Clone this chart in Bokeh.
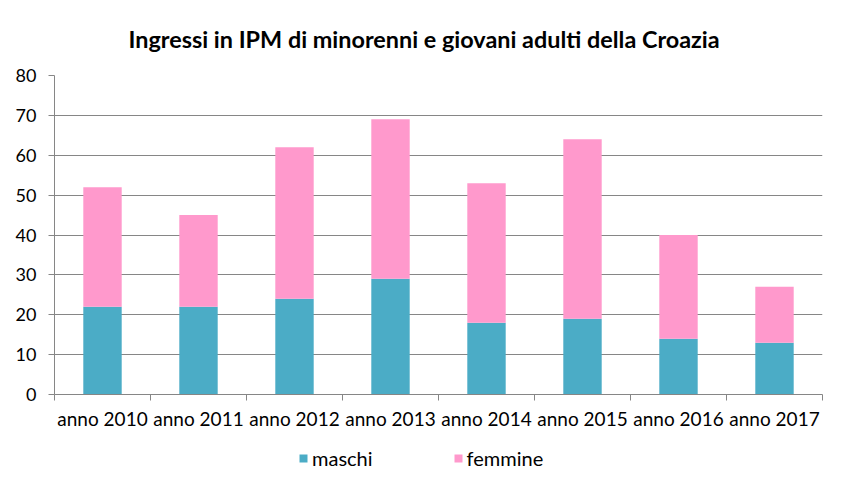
from bokeh.plotting import figure
from bokeh.layouts import column
from bokeh.models import ColumnDataSource, Range1d, FixedTicker, LinearAxis, Legend, LegendItem
from bokeh.embed import file_html
from bokeh.resources import INLINE

categories = ["anno 2010", "anno 2011", "anno 2012", "anno 2013", "anno 2014", "anno 2015", "anno 2016", "anno 2017"]
maschi = [22, 22, 24, 29, 18, 19, 14, 13]
femmine = [30, 23, 38, 40, 35, 45, 26, 14]
y_ticks = [0, 10, 20, 30, 40, 50, 60, 70, 80]
series_names = ["maschi", "femmine"]

FONT = "Lato"
C_M = "#4BACC6"
C_F = "#FF99CC"
GRID = "#868686"

xs = [i + 0.5 for i in range(len(categories))]
tops_m = maschi
tops_f = [m + f for m, f in zip(maschi, femmine)]
src = ColumnDataSource(dict(x=xs, m=tops_m, f=tops_f, cat=categories))

p = figure(width=830, height=438, output_backend="svg", toolbar_location=None,
           x_range=Range1d(0, len(categories)), y_range=Range1d(0, 80),
           min_border_left=54, min_border_right=8, min_border_top=74, min_border_bottom=44,
           title="Ingressi in IPM di minorenni e giovani adulti della Croazia")
p.outline_line_color = None
p.background_fill_color = "white"
p.border_fill_color = "white"

p.title.text_font = FONT
p.title.text_font_size = "23.4px"
p.title.text_font_style = "bold"
p.title.align = "left"
p.title.offset = 74
p.title.text_color = "black"
p.title.standoff = 45

r_m = p.vbar(x="x", bottom=0, top="m", width=0.4, source=src, fill_color=C_M, line_color=None)
r_f = p.vbar(x="x", bottom="m", top="f", width=0.4, source=src, fill_color=C_F, line_color=None)

# y axis
p.yaxis.ticker = FixedTicker(ticks=y_ticks)
p.yaxis.major_label_text_font = FONT
p.yaxis.major_label_text_font_size = "18px"
p.yaxis.major_label_text_color = "black"
p.yaxis.axis_line_color = GRID
p.yaxis.major_tick_line_color = GRID
p.yaxis.major_tick_out = 6
p.yaxis.major_tick_in = 0
p.yaxis.minor_tick_line_color = None
p.yaxis.major_label_standoff = 12

p.ygrid.ticker = FixedTicker(ticks=y_ticks)
p.ygrid.grid_line_color = GRID
p.xgrid.grid_line_color = None

# x axis with ticks at category boundaries (no labels)
bounds = list(range(len(categories) + 1))
p.xaxis.ticker = FixedTicker(ticks=bounds)
p.xaxis.major_label_text_alpha = 0
p.xaxis.major_label_text_font_size = "2px"
p.xaxis.major_label_standoff = 0
p.xaxis.axis_line_color = GRID
p.xaxis.major_tick_line_color = GRID
p.xaxis.major_tick_out = 6
p.xaxis.major_tick_in = 0
p.xaxis.minor_tick_line_color = None

# x labels axis
lab_axis = LinearAxis(ticker=FixedTicker(ticks=xs),
                      major_label_overrides={x: c for x, c in zip(xs, categories)})
lab_axis.axis_line_color = None
lab_axis.major_tick_line_color = None
lab_axis.minor_tick_line_color = None
lab_axis.major_tick_out = 0
lab_axis.major_tick_in = 0
lab_axis.major_label_standoff = 6
lab_axis.major_label_text_font = FONT
lab_axis.major_label_text_font_size = "19px"
lab_axis.major_label_text_color = "black"
p.add_layout(lab_axis, "below")

# legend strip below the chart (proxy glyphs lie outside the visible range)
lg = figure(width=830, height=44, output_backend="svg", toolbar_location=None,
            x_range=Range1d(0, 1), y_range=Range1d(0, 1),
            min_border_left=0, min_border_right=0, min_border_top=0, min_border_bottom=0)
lg.axis.visible = False
lg.grid.grid_line_color = None
lg.outline_line_color = None
lg_src = ColumnDataSource(dict(x=[-5], b=[-6], t=[-5]))
g_m = lg.vbar(x="x", bottom="b", top="t", width=0.1, source=lg_src, fill_color=C_M, line_color=None)
g_f = lg.vbar(x="x", bottom="b", top="t", width=0.1, source=lg_src, fill_color=C_F, line_color=None)

legend = Legend(items=[LegendItem(label=series_names[0], renderers=[g_m]),
                       LegendItem(label=series_names[1], renderers=[g_f])],
                orientation="horizontal", location=(244, 12))
legend.label_text_font = FONT
legend.label_text_font_size = "20px"
legend.label_text_color = "black"
legend.glyph_width = 10
legend.glyph_height = 10
legend.label_standoff = 4
legend.spacing = 80
legend.padding = 0
legend.margin = 0
legend.border_line_color = None
legend.background_fill_alpha = 0
lg.add_layout(legend, "center")

layout = column(p, lg, spacing=0)
open("out.html", "w").write(file_html(layout, INLINE))
